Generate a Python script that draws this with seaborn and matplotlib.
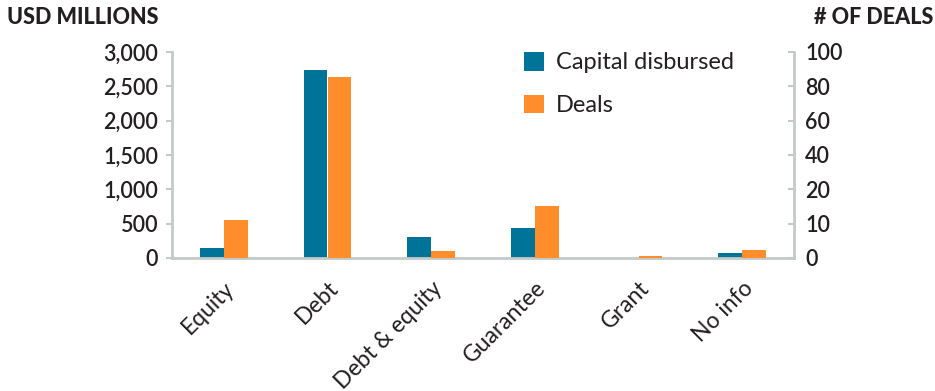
import matplotlib
matplotlib.use("Agg")
import matplotlib.pyplot as plt
import matplotlib.patches as mpatches
import matplotlib.transforms as mtrans
import seaborn as sns
import pandas as pd
import numpy as np

categories = ["Equity", "Debt", "Debt & equity", "Guarantee", "Grant", "No info"]
capital = [150, 2740, 310, 437, 0, 73]          # USD millions (left axis)
deals = [18.6, 88.1, 3.5, 25.2, 1.0, 3.9]       # position on right axis (0-100 scale)
left_ticks = [0, 500, 1000, 1500, 2000, 2500, 3000]
left_labels = ["0", "500", "1,000", "1,500", "2,000", "2,500", "3,000"]
right_labels = ["0", "10", "20", "40", "60", "80", "100"]
series = ["Capital disbursed", "Deals"]
colors = ["#007398", "#FF8D2C"]

sns.set_theme(style="white")
plt.rcParams["font.family"] = ["Lato", "DejaVu Sans"]

grey = "#C3CAC7"
dark = "#231F20"

n = len(categories)
df = pd.DataFrame({
    "category": categories * 2,
    "series": [series[0]] * n + [series[1]] * n,
    "capital": list(capital) + [np.nan] * n,
    "deals": [np.nan] * n + list(deals),
})

fig = plt.figure(figsize=(9.35, 3.91), dpi=100)
ax = fig.add_axes([172 / 935, 1 - 258 / 391, (794 - 172) / 935, (258 - 52) / 391])
ax2 = ax.twinx()

sns.barplot(data=df, x="category", y="capital", hue="series", hue_order=series,
            order=categories, palette=colors, width=0.46, ax=ax, legend=False,
            saturation=1, linewidth=0, errorbar=None)
sns.barplot(data=df, x="category", y="deals", hue="series", hue_order=series,
            order=categories, palette=colors, width=0.46, ax=ax2, legend=False,
            saturation=1, linewidth=0, errorbar=None)

ax.set_xlim(-0.5, n - 0.5)
ax.set_ylim(0, 3000)
ax2.set_ylim(0, 100)
ax.set_xlabel("")
ax.set_ylabel("")
ax2.set_ylabel("")

ax.set_yticks(left_ticks)
ax.set_yticklabels(left_labels, fontsize=15.5, fontweight="semibold", color=dark)
ax2.set_yticks(np.linspace(0, 100, 7))
ax2.set_yticklabels(right_labels, fontsize=15.5, fontweight="semibold", color=dark)

ax.set_xticks(range(n))
ax.set_xticklabels(categories, rotation=45, ha="right", rotation_mode="anchor",
                   fontsize=16.5, color=dark)
offset = mtrans.ScaledTranslation(6 / 100, 0, fig.dpi_scale_trans)
for lbl in ax.get_xticklabels():
    lbl.set_transform(lbl.get_transform() + offset)
ax.set_xticks(np.arange(-0.5, n, 1.0), minor=True)
ax.tick_params(axis="x", which="major", length=0, pad=14)
ax.tick_params(axis="x", which="minor", length=6, width=2, color=grey, direction="out")
ax.tick_params(axis="y", length=4, width=1.5, color=grey, direction="out", pad=6)
ax2.tick_params(axis="y", length=4, width=1.5, color=grey, direction="in", pad=8)

for a in (ax, ax2):
    a.spines["top"].set_visible(False)
    for s in ("left", "right", "bottom"):
        a.spines[s].set_color(grey)
        a.spines[s].set_linewidth(2)
ax.spines["right"].set_visible(False)
ax2.spines["left"].set_visible(False)
ax2.spines["bottom"].set_visible(False)

fig.text(7 / 935, 1 - 18 / 391, "USD MILLIONS", fontsize=15.5, fontweight="black",
         color=dark, va="center", ha="left")
fig.text(933 / 935, 1 - 18 / 391, "# OF DEALS", fontsize=15.5, fontweight="black",
         color=dark, va="center", ha="right")

handles = [mpatches.Patch(facecolor=c, edgecolor="none", label=l) for c, l in zip(colors, series)]
fig.legend(handles=handles, loc="upper left", bbox_to_anchor=(519 / 935, 1 - 47 / 391),
           frameon=False, fontsize=17, handlelength=0.85, handleheight=0.85,
           handletextpad=0.5, labelspacing=0.9, borderaxespad=0, borderpad=0.2,
           labelcolor=dark)

fig.savefig("out.png", dpi=100)
